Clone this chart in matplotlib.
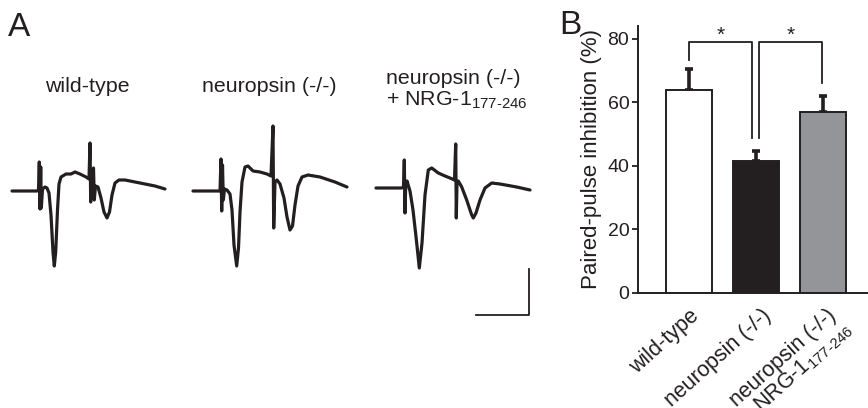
import numpy as np
import matplotlib
matplotlib.use("Agg")
from matplotlib import pyplot as plt

plt.rcParams['font.family'] = ['Liberation Sans', 'DejaVu Sans']
plt.rcParams['mathtext.default'] = 'regular'

ink = '#231f20'

# panel A: field potential traces (time, voltage in arbitrary units, baseline = 0)
trace_names = ['wild-type', 'neuropsin (-/-)', 'neuropsin (-/-)\n+ NRG-1$_{177\u2010246}$']
t_wt = [0, 25, 26.5, 27.3, 28, 28.7, 29.3, 30.5, 33, 35, 37, 39, 41, 42.3, 43.7, 45.5, 47, 49, 54, 59,
        63, 68, 74, 77, 78, 78.7, 79.5, 81.5, 82.3, 83.5, 86, 89, 92, 95, 97.5, 100, 103, 107, 113, 123,
        133, 143, 153]
v_wt = [0, 0, 1, 29, -18, 24, -17, 2, 4, 3, -2, -24, -61, -75, -61, -19, 7, 14, 17, 17,
        19, 17, 14, 12, 48, -11, 8, 23, -9, 5, 4, -7, -21, -27, -21, -4, 8, 11, 11, 9,
        7, 5, 2]
t_ko = [0, 27, 28, 28.7, 29.5, 30.3, 31.5, 34, 37, 39, 41, 43.7, 45.5, 47, 49, 52, 55, 60, 67, 74,
        78, 80, 80.7, 82, 84, 87, 91, 94, 97, 99.5, 102, 105, 109, 115, 127, 142, 154]
v_ko = [0, 0, 32, -20, 26, -9, 2, 1, -3, -19, -54, -75, -57, -21, 9, 24, 25, 20, 19, 17,
        15, 65, -37, 9, 11, 7, -7, -26, -39, -35, -14, 5, 14, 16, 14, 9, 4]
t_nrg = [0, 25.7, 27.5, 28.3, 29, 29.7, 31, 32.5, 34, 37, 40.7, 43.3, 46, 49, 52.3, 55.7, 62.3, 69, 74,
         78.5, 79.7, 80.3, 81, 82.3, 85.7, 90.7, 95.7, 97.3, 100, 104, 109, 115.7, 124, 140.7, 154]
v_nrg = [0, 0, 1, 28, -25, 3, 7, 2, -3, -22, -55, -80, -55, -7, 18, 20, 15, 12, 10,
         8, 44, -30, 5, 7, 1, -12, -27, -30, -25, -12, 0, 5, 4, 1, -2]

# panel B: paired-pulse inhibition
groups = ['wild-type', 'neuropsin (-/-)', 'neuropsin (-/-)']
group_sub = ['', '', 'NRG-1$_{177\u2010246}$']
ppi_mean = [64, 41.5, 57]
ppi_sem = [6.5, 3, 5]
bar_colors = ['white', ink, '#939598']
sig_pairs = [(0, 0.93, 73.3, 48.7), (1.04, 1.98, 48.7, 66)]

fig = plt.figure(figsize=(8.68, 4.08), dpi=100)

# panel A in pixel-like layout coordinates
axA = fig.add_axes([0, 0, 540 / 868, 1])
axA.set_xlim(0, 540)
axA.set_ylim(408, 0)
axA.axis('off')

origins = [(12, 191), (193, 191), (376, 188)]
for (t, v), (x0, y0) in zip([(t_wt, v_wt), (t_ko, v_ko), (t_nrg, v_nrg)], origins):
    axA.plot(np.array(t) + x0, y0 - np.array(v), color=ink, lw=2.3,
             solid_joinstyle='round', solid_capstyle='round')

axA.text(87, 86, trace_names[0], fontsize=15.4, ha='center', va='center', color=ink)
axA.text(269, 86, trace_names[1], fontsize=15.4, ha='center', va='center', color=ink)
axA.text(386, 90, trace_names[2], fontsize=15.4, ha='left', va='center', color=ink,
         linespacing=1.15)
axA.text(8, 27, 'A', fontsize=24, ha='left', va='center', color=ink)

# scale bar
axA.plot([476, 529, 529], [315, 315, 269], color=ink, lw=1.3)

# panel B
ax = fig.add_axes([637.7 / 868, 1 - 292.7 / 408, (868 - 637.7) / 868, (292.7 - 26) / 408])
x = np.arange(len(groups))
ax.bar(x, ppi_mean, width=0.687, color=bar_colors, edgecolor=ink, linewidth=1.4, zorder=2)
ax.errorbar(x, ppi_mean, yerr=[[0] * 3, ppi_sem], fmt='none', ecolor=ink,
            elinewidth=2.6, capsize=3, capthick=2.6, zorder=1)

for x1, x2, y1, y2 in sig_pairs:
    ax.plot([x1, x1, x2, x2], [y1, 79.1, 79.1, y2], color=ink, lw=1.3, clip_on=False)
    ax.text((x1 + x2) / 2, 81.2, '*', fontsize=15, ha='center', va='center', color=ink)

ax.set_xlim(-0.773, 2.667)
ax.set_ylim(0, 84)
ax.set_yticks([0, 20, 40, 60, 80])
ax.tick_params(axis='y', labelsize=14, length=4, width=1.3, color=ink, labelcolor=ink, pad=2)
ax.set_xticks([])
for s in ['top', 'right']:
    ax.spines[s].set_visible(False)
for s in ['left', 'bottom']:
    ax.spines[s].set_linewidth(1.4)
    ax.spines[s].set_color(ink)
ax.set_ylabel('Paired-pulse inhibition (%)', fontsize=16, color=ink, labelpad=4)

label_dx = [0.0, 0.08, 0.05]
for i, g in enumerate(groups):
    ax.text(i + label_dx[i], -3.9, g, fontsize=15.5, rotation=42, rotation_mode='anchor',
            ha='right', va='top', color=ink, clip_on=False)
ax.text(2.27, -7.8, group_sub[2], fontsize=15.5, rotation=42, rotation_mode='anchor',
        ha='right', va='top', color=ink, clip_on=False)

fig.text(559 / 868, 1 - 25 / 408, 'B', fontsize=24, ha='left', va='center', color=ink)

fig.savefig('out.png', dpi=100)
